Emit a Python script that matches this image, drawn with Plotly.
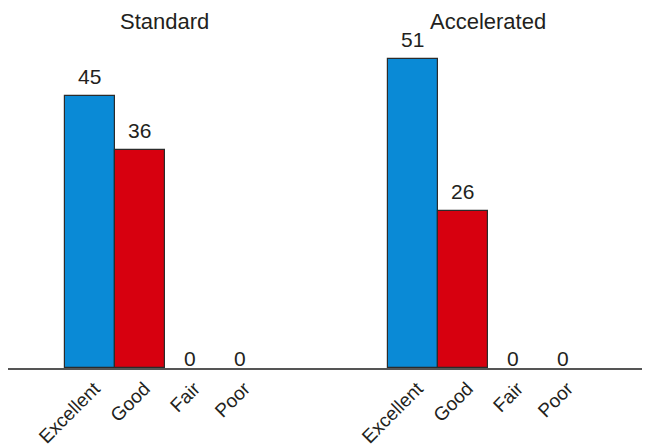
import plotly.graph_objects as go

# ---- Data ----
ratings = ["Excellent", "Good", "Fair", "Poor"]
groups = ["Standard", "Accelerated"]
standard = [45, 36, 0, 0]
accelerated = [51, 26, 0, 0]

rating_colors = {"Excellent": "#0a8ad6", "Good": "#d7000f", "Fair": "#d7000f", "Poor": "#d7000f"}
group_offset = {"Standard": 0, "Accelerated": 6.46}
font = "Liberation Sans, Arial, sans-serif"
ink = "#231f20"

x, y, labels, colors = [], [], [], []
for g, vals in zip(groups, [standard, accelerated]):
    for i, (r, v) in enumerate(zip(ratings, vals)):
        x.append(group_offset[g] + i)
        y.append(v)
        labels.append(r)
        colors.append(rating_colors[r])

fig = go.Figure()
fig.add_trace(
    go.Bar(
        x=x,
        y=y,
        width=1,
        marker=dict(
            color=colors,
            line=dict(color="#2b2b2b", width=[1.2 if v > 0 else 0 for v in y]),
        ),
        hoverinfo="x+y",
    )
)

# ---- Value labels ----
for xi, yi in zip(x, y):
    fig.add_annotation(
        x=xi, y=yi, text=str(yi), showarrow=False,
        yanchor="bottom", yshift=6 if yi > 0 else -4,
        font=dict(family=font, size=21, color=ink),
    )

# ---- Group titles ----
for g in groups:
    fig.add_annotation(
        x=group_offset[g] + 1.5, y=1, yref="paper", yshift=25,
        text=g, showarrow=False, yanchor="top",
        font=dict(family=font, size=22, color=ink),
    )

# ---- Layout ----
# the page body adds an 8px margin, so the figure is a bit smaller than the window
fig.update_layout(
    width=642,
    height=439,
    showlegend=False,
    plot_bgcolor="white",
    paper_bgcolor="white",
    margin=dict(t=24, b=79, l=0, r=0),
    bargap=0,
    xaxis=dict(
        range=[-1.63, 11.21],
        tickvals=x,
        ticktext=labels,
        tickangle=-45,
        tickfont=dict(family=font, size=19, color=ink),
        ticklabelshift=5,
        showgrid=False,
        zeroline=False,
        showline=True,
        linecolor="#555555",
        linewidth=2,
        ticks="",
        automargin=False,
    ),
    yaxis=dict(range=[0, 55.5], visible=False),
)

fig.write_html("out.html")
